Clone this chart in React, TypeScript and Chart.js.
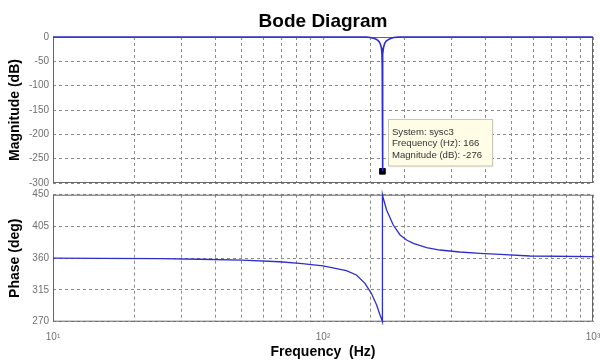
import { useEffect, useRef } from "react";
import { Chart, registerables } from "chart.js";

Chart.register(...registerables);

const FONT = '"Liberation Sans", Arial, Helvetica, sans-serif';

const chartTitle = "Bode Diagram";
const magAxisTitle = "Magnitude (dB)";
const phaseAxisTitle = "Phase (deg)";
const freqAxisTitle = "Frequency  (Hz)";

// Magnitude response (Hz, dB)
const magFreq = [10, 20, 50, 100, 130, 140, 145, 150, 155, 158, 161, 163, 164.5, 165.3, 165.7, 166, 166.3, 166.7, 167.5, 169, 171, 175, 178, 183, 190, 197, 300, 600, 1000];
const magDb = [0, 0, 0, 0, 0, 0, -0.3, -1, -3, -5, -9, -14, -22, -35, -60, -276, -60, -35, -22, -14, -9, -5, -3, -1, -0.3, 0, 0, 0, 0];

// Phase response (Hz, deg)
const phaseFreq = [10, 15, 25, 35, 50, 69, 82, 100, 122, 133, 143, 151, 158, 162.6, 165, 166, 166, 167.2, 172, 182, 193, 204, 216, 242, 271, 321, 381, 453, 585, 1000];
const phaseDeg = [360, 359.8, 359.3, 358.5, 357.3, 355, 352.8, 349, 342.3, 336.2, 324.4, 310.2, 293.7, 279.5, 273, 270, 450, 444.9, 428.3, 407, 392.9, 385.8, 381, 374.9, 371.6, 368.8, 366.9, 365.5, 363.1, 362.2];

// Axis ranges / ticks
const magMin = -300;
const magMax = 0;
const magStep = 50;
const phaseMin = 270;
const phaseMax = 450;
const phaseStep = 45;
const freqMin = 10;
const freqMax = 1000;
const xMajorValues = [10, 100, 1000];
const xMajorLabels = ["10\u00B9", "10\u00B2", "10\u00B3"];

// Data tip
const markerFreq = 166;
const markerDb = -276;
const tipLines = ["System: sysc3", "Frequency (Hz): 166", "Magnitude (dB): -276"];

const LINE = "#2e2ecf";
const GRID = "#8a8a8a";
const FRAME = "#666666";
const TICK = "#707070";

const framePlugin = {
  id: "frame",
  beforeDatasetsDraw(chart: any) {
    const { ctx, chartArea: a } = chart;
    ctx.save();
    ctx.strokeStyle = FRAME;
    ctx.lineWidth = 1;
    ctx.strokeRect(a.left + 0.5, a.top + 0.5, a.width - 1, a.height - 1);
    ctx.restore();
  },
};

const titlePlugin = {
  id: "plotTitle",
  afterDraw(chart: any) {
    const { ctx, chartArea: a } = chart;
    ctx.save();
    ctx.fillStyle = "#000";
    ctx.font = `bold 19px ${FONT}`;
    ctx.textAlign = "center";
    ctx.textBaseline = "alphabetic";
    ctx.fillText(chartTitle, (a.left + a.right) / 2, 27);
    ctx.restore();
  },
};

const tipPlugin = {
  id: "datatip",
  afterDraw(chart: any) {
    const { ctx } = chart;
    const mx = chart.scales.x.getPixelForValue(markerFreq);
    const my = chart.scales.y.getPixelForValue(markerDb);
    const bx = mx + 5.5;
    const by = my - 52;
    const bw = 104;
    const bh = 46.5;
    ctx.save();
    ctx.fillStyle = "rgba(0,0,0,0.08)";
    ctx.fillRect(bx + 1.5, by + 1.5, bw, bh);
    ctx.fillStyle = "#fffde6";
    ctx.fillRect(bx, by, bw, bh);
    ctx.strokeStyle = "#c8c8b8";
    ctx.lineWidth = 1;
    ctx.strokeRect(Math.round(bx) + 0.5, Math.round(by) + 0.5, bw, bh);
    ctx.fillStyle = "#333333";
    ctx.font = `9.6px ${FONT}`;
    ctx.textBaseline = "alphabetic";
    ctx.textAlign = "left";
    tipLines.forEach((t, i) => {
      ctx.fillText(t, bx + 4, by + 15.7 + i * 11.4);
    });
    ctx.restore();
  },
};

function yAxisFit(s: any) {
  s.width = 53;
  s.paddingTop = 0;
  s.paddingBottom = 0;
  s.paddingLeft = 0;
  s.paddingRight = 0;
}

function xAxisFit(h: number) {
  return (s: any) => {
    s.height = h;
    s.paddingLeft = 0;
    s.paddingRight = 0;
    s.paddingTop = 0;
    s.paddingBottom = 0;
  };
}

export default function App() {
  const topRef = useRef<HTMLCanvasElement>(null);
  const botRef = useRef<HTMLCanvasElement>(null);

  useEffect(() => {
    document.body.style.margin = "0";
    const magData = magFreq.map((f, i) => ({ x: f, y: magDb[i] }));
    const phaseData = phaseFreq.map((f, i) => ({ x: f, y: phaseDeg[i] }));

    const xGrid = {
      color: GRID,
      lineWidth: 1,
      drawTicks: false,
    };

    const top = new Chart(topRef.current!, {
      type: "line",
      data: {
        datasets: [
          {
            data: magData,
            borderColor: LINE,
            borderWidth: 1.6,
            pointRadius: 0,
            tension: 0,
            clip: false as any,
          },
          {
            data: [{ x: markerFreq, y: markerDb }],
            borderColor: "#000",
            backgroundColor: "#000",
            pointStyle: "rect",
            pointRadius: 4,
            showLine: false,
          },
        ],
      },
      options: {
        animation: false,
        responsive: true,
        maintainAspectRatio: false,
        layout: { padding: { top: 37, left: 0, right: 7, bottom: 5 } },
        plugins: {
          legend: { display: false },
          tooltip: { enabled: false },
          title: { display: false },
        },
        scales: {
          x: {
            type: "logarithmic",
            min: freqMin,
            max: freqMax,
            grid: xGrid,
            border: { display: false, dash: [3, 3] },
            ticks: { display: false, autoSkip: false, padding: 0 },
            afterFit: xAxisFit(0),
          },
          y: {
            type: "linear",
            min: magMin,
            max: magMax,
            ticks: {
              stepSize: magStep,
              color: TICK,
              padding: 4,
              font: { family: FONT, size: 10 },
            },
            grid: { color: GRID, drawTicks: false },
            border: { display: false, dash: [3, 3] },
            title: {
              display: true,
              text: magAxisTitle,
              color: "#000",
              font: { family: FONT, size: 14, weight: "bold" },
              padding: { top: 7, bottom: 0 },
            },
            afterFit: yAxisFit,
          },
        },
      } as any,
      plugins: [framePlugin, titlePlugin, tipPlugin],
    });

    const bot = new Chart(botRef.current!, {
      type: "line",
      data: {
        datasets: [
          {
            data: phaseData,
            borderColor: LINE,
            borderWidth: 1.3,
            pointRadius: 0,
            tension: 0,
            clip: false as any,
          },
        ],
      },
      options: {
        animation: false,
        responsive: true,
        maintainAspectRatio: false,
        layout: { padding: { top: 6.7, left: 0, right: 7, bottom: 0 } },
        plugins: {
          legend: { display: false },
          tooltip: { enabled: false },
          title: { display: false },
        },
        scales: {
          x: {
            type: "logarithmic",
            min: freqMin,
            max: freqMax,
            grid: xGrid,
            border: { display: false, dash: [3, 3] },
            ticks: {
              autoSkip: false,
              maxRotation: 0,
              color: TICK,
              padding: 10,
              font: { family: FONT, size: 10 },
              callback: (v: any) => {
                const i = xMajorValues.indexOf(Number(v));
                return i >= 0 ? xMajorLabels[i] : "";
              },
            },
            title: {
              display: true,
              text: freqAxisTitle,
              color: "#000",
              font: { family: FONT, size: 14, weight: "bold" },
              padding: { top: 0, bottom: 2 },
            },
            afterFit: xAxisFit(41.3),
          },
          y: {
            type: "linear",
            min: phaseMin,
            max: phaseMax,
            ticks: {
              stepSize: phaseStep,
              color: TICK,
              padding: 4,
              font: { family: FONT, size: 10 },
            },
            grid: { color: GRID, drawTicks: false },
            border: { display: false, dash: [3, 3] },
            title: {
              display: true,
              text: phaseAxisTitle,
              color: "#000",
              font: { family: FONT, size: 14, weight: "bold" },
              padding: { top: 7, bottom: 0 },
            },
            afterFit: yAxisFit,
          },
        },
      } as any,
      plugins: [framePlugin],
    });

    return () => {
      top.destroy();
      bot.destroy();
    };
  }, []);

  return (
    <div style={{ position: "relative", width: 600, height: 363, background: "#fff" }}>
      <div style={{ position: "absolute", left: 0, top: 0, width: 600, height: 188 }}>
        <canvas ref={topRef} />
      </div>
      <div style={{ position: "absolute", left: 0, top: 188, width: 600, height: 175 }}>
        <canvas ref={botRef} />
      </div>
    </div>
  );
}
